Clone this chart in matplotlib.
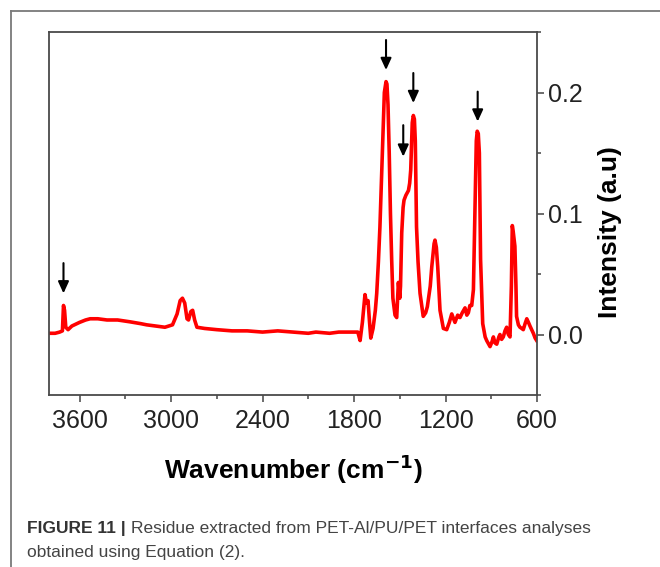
import matplotlib.pyplot as plt
from matplotlib.ticker import MultipleLocator

plt.rcParams['font.family'] = ['Liberation Sans', 'DejaVu Sans']

# spectrum (wavenumber cm-1, intensity a.u.)
wavenumber = [3800, 3760, 3730, 3712, 3705, 3698, 3690, 3675, 3650, 3600,
              3560, 3530, 3480, 3420, 3350, 3270, 3200, 3160, 3100, 3040,
              2990, 2960, 2940, 2925, 2910, 2895, 2885, 2870, 2858, 2845,
              2830, 2780, 2700, 2600, 2500, 2400, 2300, 2200, 2100, 2050,
              1960, 1900, 1800, 1775, 1760, 1745, 1728, 1718, 1708, 1698,
              1690, 1675, 1660, 1651, 1640, 1630, 1614, 1601, 1590, 1584,
              1577, 1569, 1561, 1553, 1545, 1531, 1520, 1509, 1500, 1495,
              1487, 1478, 1472, 1460, 1443, 1435, 1428, 1418, 1411, 1404,
              1398, 1390, 1380, 1367, 1346, 1330, 1319, 1300, 1290, 1275,
              1269, 1260, 1251, 1236, 1214, 1192, 1175, 1159, 1138, 1120,
              1105, 1090, 1072, 1060, 1050, 1040, 1028, 1017, 1007, 998,
              992, 985, 978, 970, 956, 940, 930, 908, 895, 886,
              875, 864, 850, 843, 832, 821, 810, 799, 788, 777,
              768, 762, 756, 745, 738, 734, 722, 712, 700, 690,
              678, 667, 656, 646, 635, 624, 612, 602]
intensity = [0.001, 0.001, 0.002, 0.003, 0.024, 0.020, 0.006, 0.004, 0.007, 0.010,
             0.012, 0.013, 0.013, 0.012, 0.012, 0.0105, 0.009, 0.008, 0.007, 0.006,
             0.008, 0.017, 0.028, 0.030, 0.026, 0.013, 0.012, 0.019, 0.020, 0.012,
             0.006, 0.005, 0.004, 0.003, 0.003, 0.002, 0.003, 0.002, 0.001, 0.002,
             0.001, 0.002, 0.002, 0.002, -0.005, 0.010, 0.033, 0.026, 0.028, 0.010,
             -0.003, 0.005, 0.020, 0.034, 0.060, 0.089, 0.150, 0.200, 0.209, 0.207,
             0.190, 0.150, 0.100, 0.062, 0.030, 0.016, 0.014, 0.043, 0.030, 0.040,
             0.084, 0.105, 0.111, 0.115, 0.119, 0.125, 0.136, 0.175, 0.181, 0.178,
             0.160, 0.089, 0.060, 0.034, 0.015, 0.018, 0.023, 0.040, 0.056, 0.075,
             0.078, 0.072, 0.056, 0.020, 0.005, 0.004, 0.010, 0.017, 0.010, 0.016,
             0.014, 0.018, 0.022, 0.016, 0.018, 0.024, 0.024, 0.037, 0.103, 0.160,
             0.168, 0.166, 0.150, 0.062, 0.009, -0.002, -0.005, -0.010, -0.006, -0.002,
             -0.007, -0.008, -0.002, 0.000, -0.004, -0.002, 0.003, 0.006, 0.000, -0.002,
             0.040, 0.090, 0.085, 0.073, 0.040, 0.015, 0.008, 0.006, 0.005, 0.004,
             0.009, 0.013, 0.010, 0.007, 0.004, 0.001, -0.003, -0.005]

# arrows: (wavenumber, tip intensity, tail intensity)
arrow_x = [3705, 1590, 1411, 1477, 989]
arrow_tip = [0.034, 0.2186, 0.1913, 0.147, 0.176]
arrow_tail = [0.059, 0.2434, 0.2161, 0.173, 0.2007]

fig = plt.figure(figsize=(6.6, 5.67), dpi=100)
ax = fig.add_axes([49/660, 1 - 395/567, 488/660, 363/567])

ax.plot(wavenumber, intensity, color='#ff0000', lw=2.6, solid_joinstyle='round')

for x, tip, tail in zip(arrow_x, arrow_tip, arrow_tail):
    ax.annotate('', xy=(x, tip), xytext=(x, tail),
                arrowprops=dict(arrowstyle='-|>,head_length=0.7,head_width=0.32',
                                color='black', lw=1.5, shrinkA=0, shrinkB=0))

ax.set_xlim(3800, 600)
ax.set_ylim(-0.05, 0.25)
ax.xaxis.set_major_locator(MultipleLocator(600))
ax.xaxis.set_minor_locator(MultipleLocator(300))
ax.yaxis.set_major_locator(MultipleLocator(0.1))
ax.yaxis.set_minor_locator(MultipleLocator(0.05))
ax.set_xticks([3600, 3000, 2400, 1800, 1200, 600])
ax.set_yticks([0.0, 0.1, 0.2])
ax.set_yticklabels(['0.0', '0.1', '0.2'])

ax.yaxis.tick_right()
ax.tick_params(axis='x', which='both', bottom=True, top=False, direction='out',
               labelsize=18, pad=5, color='#444444', labelcolor='#222222')
ax.tick_params(axis='y', which='both', left=False, right=True, direction='out',
               labelsize=18, pad=3, color='#444444', labelcolor='#222222')
ax.tick_params(which='major', length=5, width=1.1)
ax.tick_params(which='minor', length=3, width=1.1)
for s in ax.spines.values():
    s.set_color('#4a4a4a')
    s.set_linewidth(1.3)

ax.set_xlabel(r'Wavenumber (cm$^{\mathbf{-1}}$)', fontsize=19, fontweight='bold',
              labelpad=14)
ax.set_ylabel('Intensity (a.u)', fontsize=19, fontweight='bold')
ax.yaxis.set_label_position('right')
ax.yaxis.set_label_coords(1.125, 0.449)

# outer figure frame
fig.add_artist(plt.Line2D([11/660, 11/660], [0, 1 - 11/567], color='#7a7a7a',
                          lw=1.3, transform=fig.transFigure))
fig.add_artist(plt.Line2D([11/660, 1], [1 - 11/567, 1 - 11/567], color='#7a7a7a',
                          lw=1.3, transform=fig.transFigure))

# caption
cap_font = ['Liberation Sans', 'DejaVu Sans']
t1 = fig.text(27/660, 1 - 529/567, 'FIGURE 11 |', fontsize=12.5, fontweight='bold',
              color='#333333', va='center', family=cap_font)
fig.canvas.draw()
bb = t1.get_window_extent()
fig.text(bb.x1/660 + 5/660, 1 - 529/567,
         'Residue extracted from PET-Al/PU/PET interfaces analyses',
         fontsize=12.5, color='#444444', va='center', family=cap_font)
fig.text(27/660, 1 - 553/567, 'obtained using Equation (2).', fontsize=12.5,
         color='#444444', va='center', family=cap_font)

fig.savefig('out.png', dpi=100)
